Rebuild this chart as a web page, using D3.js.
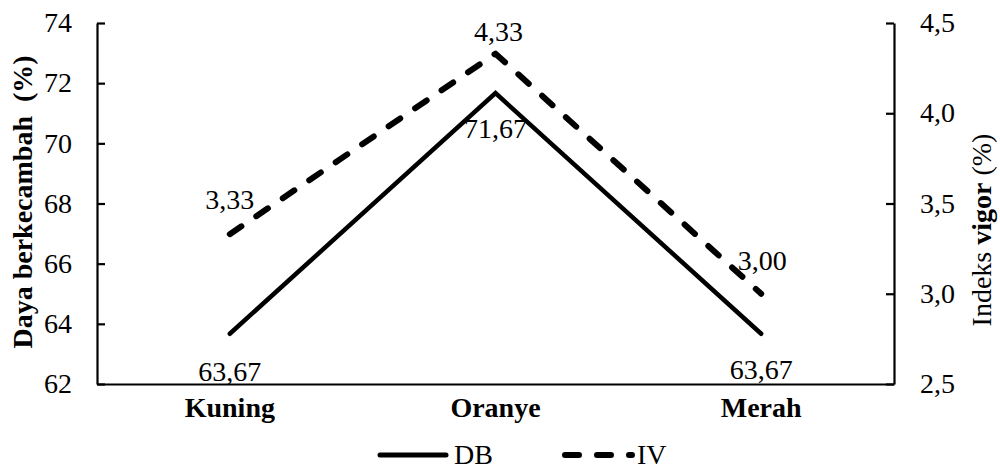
<!DOCTYPE html>
<html><head><meta charset="utf-8"><script src="https://cdn.jsdelivr.net/npm/d3@7"></script></head>
<body style="margin:0">
<svg id="viz" width="1000" height="469"></svg>
<script>
const categories = ["Kuning", "Oranye", "Merah"];
const dbValues = [63.67, 71.67, 63.67];
const ivValues = [3.33, 4.33, 3.00];
const leftTicks = [62, 64, 66, 68, 70, 72, 74];
const rightTicks = [2.5, 3.0, 3.5, 4.0, 4.5];
const seriesNames = ["DB", "IV"];

// layout (label offsets in px relative to points)
const dbLabelDy = [47, 45, 45];
const ivLabelDy = [-25, -13, -24];
const ivLabelDx = [0, 3, 1];

const FONT = "Liberation Serif";
const m = { left: 97, right: 894, top: 23, bottom: 384 };
const FS = 28;

const svg = d3.select("#viz");

const x = d3.scalePoint().domain(categories).range([m.left, m.right]).padding(0.5);
const yL = d3.scaleLinear().domain([62, 74]).range([m.bottom, m.top]);
const yR = d3.scaleLinear().domain([2.5, 4.5]).range([m.bottom, m.top]);

const comma = (f) => (v) => f(v).replace(".", ",");

function txt(sel) {
  return sel.attr("font-family", FONT).style("font-family", FONT, "important")
    .attr("fill", "#000").attr("font-size", FS);
}

// Left axis (ticks inward)
const gL = svg.append("g").attr("transform", `translate(${m.left},0)`)
  .call(d3.axisRight(yL).tickValues(leftTicks).tickSize(8).tickSizeOuter(0).tickFormat(""));
gL.select(".domain").attr("stroke", "#000").attr("stroke-width", 2.2);
gL.selectAll(".tick line").attr("stroke", "#000").attr("stroke-width", 2.2);
txt(svg.append("g").selectAll("text").data(leftTicks).join("text"))
  .attr("x", m.left - 25).attr("y", d => yL(d)).attr("dy", "0.33em")
  .attr("text-anchor", "end")
  .text(d => d3.format("d")(d));

// Right axis (ticks inward)
const gR = svg.append("g").attr("transform", `translate(${m.right},0)`)
  .call(d3.axisLeft(yR).tickValues(rightTicks).tickSize(8).tickSizeOuter(0).tickFormat(""));
gR.select(".domain").attr("stroke", "#000").attr("stroke-width", 2.2);
gR.selectAll(".tick line").attr("stroke", "#000").attr("stroke-width", 2.2);
txt(svg.append("g").selectAll("text").data(rightTicks).join("text"))
  .attr("x", m.right + 26).attr("y", d => yR(d)).attr("dy", "0.33em")
  .attr("text-anchor", "start")
  .text(comma(d3.format(".1f")));

// Bottom axis
const gB = svg.append("g").attr("transform", `translate(0,${m.bottom})`)
  .call(d3.axisBottom(x).tickSize(0).tickSizeOuter(0).tickFormat(""));
gB.select(".domain").attr("stroke", "#000").attr("stroke-width", 2.2);
txt(svg.append("g").selectAll("text").data(categories).join("text"))
  .attr("x", d => x(d)).attr("y", 417)
  .attr("text-anchor", "middle").attr("font-weight", "bold")
  .text(d => d);

// Axis titles
txt(svg.append("text"))
  .attr("transform", `translate(32,202) rotate(-90)`)
  .attr("text-anchor", "middle").attr("font-weight", "bold")
  .style("white-space", "pre")
  .text("Daya berkecambah  (%)");

const rt = txt(svg.append("text"))
  .attr("transform", `translate(991,230) rotate(-90)`)
  .attr("text-anchor", "middle").style("white-space", "pre");
rt.append("tspan").text("Indeks ");
rt.append("tspan").attr("font-weight", "bold").text("vigor");
rt.append("tspan").text(" (%)");

// Lines
const dbLine = d3.line().x((d, i) => x(categories[i])).y(d => yL(d));
const ivLine = d3.line().x((d, i) => x(categories[i])).y(d => yR(d));

svg.append("path").datum(dbValues).attr("d", dbLine)
  .attr("fill", "none").attr("stroke", "#000").attr("stroke-width", 4.5)
  .attr("stroke-linecap", "round").attr("stroke-linejoin", "miter");

svg.append("path").datum(ivValues).attr("d", ivLine)
  .attr("fill", "none").attr("stroke", "#000").attr("stroke-width", 6)
  .attr("stroke-dasharray", "14 18")
  .attr("stroke-linecap", "round").attr("stroke-linejoin", "round");

// Data labels
txt(svg.append("g").selectAll("text").data(dbValues).join("text"))
  .attr("x", (d, i) => x(categories[i])).attr("y", (d, i) => yL(d) + dbLabelDy[i])
  .attr("text-anchor", "middle")
  .text(comma(d3.format(".2f")));

txt(svg.append("g").selectAll("text").data(ivValues).join("text"))
  .attr("x", (d, i) => x(categories[i]) + ivLabelDx[i]).attr("y", (d, i) => yR(d) + ivLabelDy[i])
  .attr("text-anchor", "middle")
  .text(comma(d3.format(".2f")));

// Legend
const lg = svg.append("g");
lg.append("line").attr("x1", 380).attr("x2", 446).attr("y1", 455).attr("y2", 455)
  .attr("stroke", "#000").attr("stroke-width", 5).attr("stroke-linecap", "round");
txt(lg.append("text")).attr("x", 454).attr("y", 464).text(seriesNames[0]);
lg.append("line").attr("x1", 565).attr("x2", 632).attr("y1", 455).attr("y2", 455)
  .attr("stroke", "#000").attr("stroke-width", 6).attr("stroke-dasharray", "14 18")
  .attr("stroke-linecap", "round");
txt(lg.append("text")).attr("x", 637).attr("y", 464).text(seriesNames[1]);
</script>
</body>
</html>
